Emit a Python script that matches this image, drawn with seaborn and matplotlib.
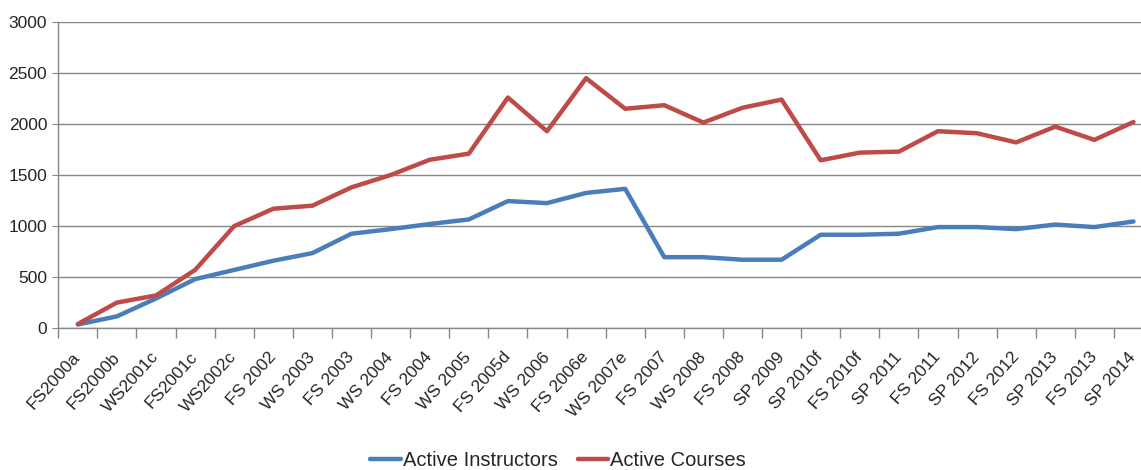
import matplotlib.pyplot as plt
import matplotlib.transforms as mtransforms
import pandas as pd
import seaborn as sns

terms = ["FS2000a", "FS2000b", "WS2001c", "FS2001c", "WS2002c", "FS 2002", "WS 2003",
         "FS 2003", "WS 2004", "FS 2004", "WS 2005", "FS 2005d", "WS 2006", "FS 2006e",
         "WS 2007e", "FS 2007", "WS 2008", "FS 2008", "SP 2009", "SP 2010f", "FS 2010f",
         "SP 2011", "FS 2011", "SP 2012", "FS 2012", "SP 2013", "FS 2013", "SP 2014"]
instructors = [35, 115, 290, 480, 570, 660, 735, 925, 970, 1020, 1065, 1245, 1225, 1325,
               1365, 695, 695, 670, 670, 915, 915, 925, 990, 990, 970, 1015, 990, 1045]
courses = [40, 250, 320, 570, 1000, 1170, 1200, 1380, 1500, 1650, 1710, 2260, 1930, 2450,
           2150, 2185, 2015, 2160, 2240, 1645, 1720, 1730, 1930, 1910, 1820, 1975, 1845, 2020]

df = pd.DataFrame({
    "term": terms * 2,
    "value": instructors + courses,
    "series": ["Active Instructors"] * len(terms) + ["Active Courses"] * len(terms),
})
df["pos"] = list(range(len(terms))) * 2

sns.set_style("white")
plt.rcParams["font.family"] = ["Liberation Sans", "DejaVu Sans"]

fig = plt.figure(figsize=(11.41, 4.70), dpi=100)
ax = fig.add_axes([0.0511, 0.302, 0.9594, 0.651])

sns.lineplot(data=df, x="pos", y="value", hue="series",
             palette={"Active Instructors": "#4A7EBB", "Active Courses": "#BE4B48"},
             linewidth=3.2, ax=ax, legend=True)

ax.set_xlim(-0.5, len(terms) - 0.5)
ax.set_ylim(0, 3000)
ax.set_yticks(range(0, 3001, 500))
ax.set_xticks([i - 0.5 for i in range(len(terms) + 1)], minor=False)
ax.set_xticklabels([])
ax.set_xticks(range(len(terms)), minor=True)
ax.set_xticklabels(terms, minor=True, rotation=48, ha="right", va="center",
                   rotation_mode="anchor", fontsize=12.5)
ax.tick_params(axis="x", which="major", length=7, color="#868686", width=1, direction="out",
               bottom=True)
ax.tick_params(axis="x", which="minor", length=0, pad=19)
ax.tick_params(axis="y", length=4, color="#868686", left=True, labelsize=12.5, pad=4)
ax.grid(axis="y", color="#868686", linewidth=1)
ax.set_axisbelow(True)
for s in ["top", "right"]:
    ax.spines[s].set_visible(False)
for s in ["left", "bottom"]:
    ax.spines[s].set_color("#868686")
    ax.spines[s].set_linewidth(1)
ax.set_xlabel("")
ax.set_ylabel("")

handles, labels = ax.get_legend_handles_labels()
ax.get_legend().remove()
fig.legend(handles, labels, loc="center", bbox_to_anchor=(0.489, 0.02), ncol=2,
           frameon=False, fontsize=14.5, handlelength=1.5, handletextpad=0.1,
           columnspacing=1.0)

fig.savefig("out.png", dpi=100)
